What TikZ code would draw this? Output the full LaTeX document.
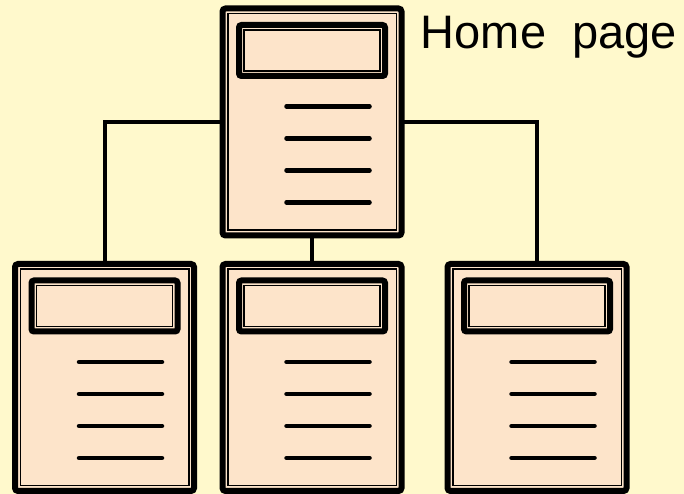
\documentclass[tikz,border=0pt]{standalone}
\usepackage{fontspec}
\setmainfont{Liberation Sans}
\usetikzlibrary{calc}
\definecolor{bgcol}{HTML}{FFF9CC}
\definecolor{pagecol}{HTML}{FDE4CA}
\tikzset{
  pagenode/.style={draw=black, fill=pagecol, line width=6pt, rounded corners=3pt,
    minimum width=179pt, minimum height=227pt, inner sep=0pt, outer sep=0pt},
  pageinner/.style={draw=black, line width=1.5pt},
  hdrbox/.style={draw=black, line width=6pt, rounded corners=2.5pt},
  hdrinner/.style={draw=black, line width=1.6pt},
  txtline/.style={draw=black, line width=4.5pt, line cap=round},
  connector/.style={draw=black, line width=4pt}
}
\newcommand\pagedetail[1]{%
  \begin{scope}[shift={($(#1.north west)+(-3,3)$)}]
    \draw[pageinner] (8.25,-8.25) rectangle (176.75,-224.75);
    \draw[hdrbox] (19.5,-19.5) rectangle (165.5,-70.5);
    \draw[hdrinner] (24.5,-24.5) rectangle (160.5,-65.5);
    \foreach \yy in {101,133,165,197} \draw[txtline] (67,-\yy) -- (150,-\yy);
  \end{scope}}
\begin{document}
\begin{tikzpicture}[x=1pt,y=1pt]
  \fill[bgcol] (0,0) rectangle (684,494);
  \useasboundingbox (0,0) rectangle (684,494);
  % pages
  \node[pagenode] (home) at (312,372) {};
  \node[pagenode] (left) at (104.5,116.5) {};
  \node[pagenode] (mid) at (312,116.5) {};
  \node[pagenode] (right) at (537,116.5) {};
  \pagedetail{home}
  \pagedetail{left}
  \pagedetail{mid}
  \pagedetail{right}
  % connectors
  \draw[connector] (home.west) -| (left.north);
  \draw[connector] (home.east) -| (right.north);
  \draw[connector] (home.south) -- (mid.north);
  % label
  \node[anchor=base west, inner sep=0pt, font=\fontsize{47}{56}\selectfont] (title) at (420.6,445.7) {Home\ \ page};
\end{tikzpicture}
\end{document}
